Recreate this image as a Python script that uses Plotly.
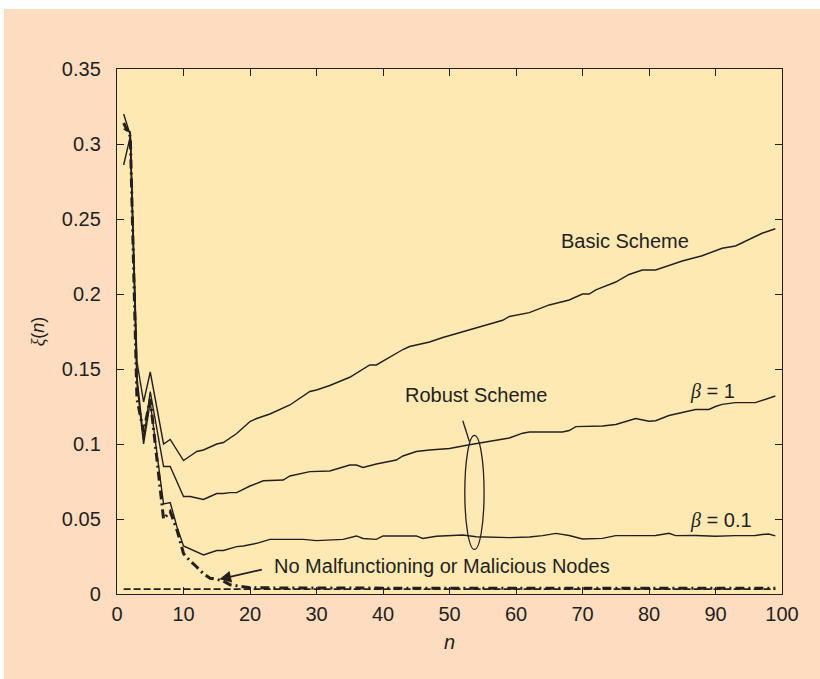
import plotly.graph_objects as go

# ---- data -------------------------------------------------------------
basic_n = [1, 2, 3, 4, 5, 6, 7, 8, 9, 10, 11, 12, 13, 14, 15, 16, 17, 18, 19, 20,
           21, 23, 26, 28, 29, 30, 32, 35, 37, 38, 39, 41, 43, 44, 45, 47, 49, 51,
           54, 57, 58, 59, 60, 62, 65, 68, 70, 71, 72, 75, 77, 79, 81, 82, 83, 85,
           88, 89, 91, 93, 95, 97, 99]
basic_xi = [0.320, 0.306, 0.155, 0.128, 0.148, 0.124, 0.100, 0.103, 0.096, 0.089,
            0.092, 0.095, 0.096, 0.098, 0.100, 0.101, 0.104, 0.107, 0.111, 0.115,
            0.117, 0.120, 0.126, 0.132, 0.135, 0.136, 0.139, 0.1445, 0.150, 0.1527,
            0.1527, 0.158, 0.163, 0.165, 0.166, 0.168, 0.171, 0.1735, 0.1775, 0.181,
            0.1825, 0.185, 0.186, 0.1876, 0.1927, 0.196, 0.200, 0.200, 0.2028, 0.208,
            0.213, 0.216, 0.216, 0.2175, 0.219, 0.222, 0.2255, 0.227, 0.2305, 0.232,
            0.2365, 0.2405, 0.2435]

robust1_n = [1, 2, 3, 4, 5, 6, 7, 8, 9, 10, 11, 12, 13, 14, 15, 16, 17, 18, 20, 22,
             25, 26, 29, 32, 35, 36, 37, 39, 42, 43, 45, 47, 50, 53, 55, 59, 61, 62,
             67, 68, 69, 72, 73, 75, 76, 78, 80, 81, 83, 85, 87, 89, 90, 91, 93, 96,
             97, 99]
robust1_xi = [0.310, 0.308, 0.145, 0.103, 0.135, 0.110, 0.085, 0.085, 0.075, 0.065,
              0.065, 0.064, 0.063, 0.065, 0.067, 0.067, 0.0676, 0.0676, 0.072, 0.0755,
              0.076, 0.0787, 0.0816, 0.082, 0.086, 0.086, 0.0844, 0.0867, 0.0893, 0.092,
              0.095, 0.096, 0.097, 0.0995, 0.101, 0.104, 0.1072, 0.108, 0.108, 0.109,
              0.1116, 0.1116, 0.112, 0.113, 0.1145, 0.117, 0.1152, 0.1155, 0.119, 0.121,
              0.123, 0.123, 0.125, 0.1264, 0.1276, 0.1276, 0.129, 0.132]

robust01_n = [1, 2, 3, 4, 5, 6, 7, 8, 9, 10, 11, 12, 13, 14, 15, 16, 17, 18, 19, 21,
              23, 28, 30, 34, 36, 37, 39, 40, 45, 46, 48, 50, 52, 54, 56, 59, 62, 64,
              66, 68, 70, 73, 75, 78, 81, 83, 84, 87, 90, 93, 96, 97, 98, 99]
robust01_xi = [0.286, 0.305, 0.140, 0.100, 0.128, 0.095, 0.060, 0.061, 0.045, 0.032,
               0.030, 0.028, 0.026, 0.0275, 0.029, 0.029, 0.0304, 0.0316, 0.032, 0.0338,
               0.0364, 0.0364, 0.0356, 0.0364, 0.0387, 0.037, 0.0364, 0.0387, 0.0387,
               0.037, 0.0385, 0.039, 0.0393, 0.0382, 0.038, 0.0376, 0.038, 0.0389,
               0.0404, 0.039, 0.0367, 0.0371, 0.0389, 0.039, 0.039, 0.0405, 0.0389,
               0.039, 0.0385, 0.0389, 0.039, 0.0397, 0.040, 0.0387]

clean_n = [1, 2, 3, 4, 5, 6, 7, 8, 9, 10, 11, 12, 13, 14, 15, 16, 17, 18, 19, 20,
           25, 30, 40, 50, 60, 70, 80, 90, 99]
clean_xi = [0.314, 0.305, 0.130, 0.108, 0.130, 0.090, 0.050, 0.055, 0.043, 0.027,
            0.022, 0.018, 0.0135, 0.0105, 0.0098, 0.0085, 0.0062, 0.0055, 0.0048,
            0.0042, 0.0040, 0.0039, 0.0038, 0.0038, 0.0038, 0.0038, 0.0038, 0.0038,
            0.0038]

bound_n = [1, 99]
bound_xi = [0.0033, 0.0033]

x_ticks = [0, 10, 20, 30, 40, 50, 60, 70, 80, 90, 100]
y_ticks = [0, 0.05, 0.1, 0.15, 0.2, 0.25, 0.3, 0.35]
y_tick_text = ["0", "0.05", "0.1", "0.15", "0.2", "0.25", "0.3", "0.35"]

# ---- style ------------------------------------------------------------
INK = "#231F20"
PEACH = "#FDDCBF"
PLOT_BG = "#FEE9B3"
FONT = "Liberation Sans, Arial, sans-serif"

fig = go.Figure()

for xs, ys in [(basic_n, basic_xi), (robust1_n, robust1_xi), (robust01_n, robust01_xi)]:
    fig.add_trace(go.Scatter(x=xs, y=ys, mode="lines",
                             line=dict(color=INK, width=1.4), showlegend=False))

fig.add_trace(go.Scatter(x=clean_n, y=clean_xi, mode="lines",
                         line=dict(color=INK, width=3, dash="9px,4px,2px,4px"),
                         showlegend=False))
fig.add_trace(go.Scatter(x=bound_n, y=bound_xi, mode="lines",
                         line=dict(color=INK, width=1.8, dash="7px,3px"),
                         showlegend=False))

# page frame and plotting-area fill
fig.add_shape(type="rect", xref="paper", yref="paper",
              x0=-0.17, x1=1.1, y0=-0.2, y1=1.1143,
              fillcolor=PEACH, line_width=0, layer="below")
fig.add_shape(type="rect", xref="paper", yref="paper",
              x0=0, x1=1, y0=0, y1=1,
              fillcolor=PLOT_BG, line_width=0, layer="below")

# ellipse grouping the robust-scheme curves, with its pointer
fig.add_shape(type="circle", xref="x", yref="y",
              x0=52.3, x1=55.2, y0=0.0297, y1=0.1057,
              line=dict(color=INK, width=1.3))
fig.add_shape(type="line", xref="x", yref="y",
              x0=52.0, y0=0.1155, x1=53.0, y1=0.1015,
              line=dict(color=INK, width=1.3))

txt = dict(size=20, color=INK, family=FONT)
beta = "<span style='font-family:Liberation Serif'><i>β</i></span>"
fig.add_annotation(x=76.4, y=0.2353, text="Basic Scheme", showarrow=False, font=txt)
fig.add_annotation(x=54.0, y=0.1327, text="Robust Scheme", showarrow=False, font=txt)
fig.add_annotation(x=85.9, y=0.1353, text=beta + " = 1", showarrow=False,
                   xanchor="left", font=txt)
fig.add_annotation(x=85.9, y=0.0493, text=beta + " = 0.1", showarrow=False,
                   xanchor="left", font=txt)
fig.add_annotation(x=23.3, y=0.0187, text="No Malfunctioning or Malicious Nodes",
                   showarrow=False, xanchor="left", font=txt)
fig.add_annotation(x=15.4, y=0.0098, ax=22.0, ay=0.0165, axref="x", ayref="y",
                   text="", showarrow=True, arrowhead=2, arrowsize=1.3,
                   arrowwidth=1.8, arrowcolor=INK)

axis_common = dict(showline=True, linecolor=INK, linewidth=1.4, mirror="ticks",
                   ticks="inside", ticklen=7, tickwidth=1.2, tickcolor=INK,
                   showgrid=False, zeroline=False,
                   tickfont=dict(size=20, color=INK, family=FONT))

fig.update_xaxes(range=[0, 100], tickmode="array", tickvals=x_ticks,
                 ticklabelstandoff=2,
                 title=dict(text="<i>n</i>", font=dict(size=20, color=INK, family=FONT),
                            standoff=10),
                 **axis_common)
fig.update_yaxes(range=[0, 0.35], tickmode="array", tickvals=y_ticks,
                 ticktext=y_tick_text, ticklabelstandoff=11,
                 title=dict(text="<span style='font-family:Liberation Serif'><i>ξ</i></span>(<i>n</i>)",
                            font=dict(size=18, color=INK, family=FONT), standoff=12),
                 **axis_common)

fig.update_layout(width=820, height=679,
                  margin=dict(l=117, r=38, t=69, b=85, pad=0),
                  paper_bgcolor="white", plot_bgcolor="rgba(0,0,0,0)",
                  font=dict(family=FONT, color=INK))

fig.write_html("out.html")
